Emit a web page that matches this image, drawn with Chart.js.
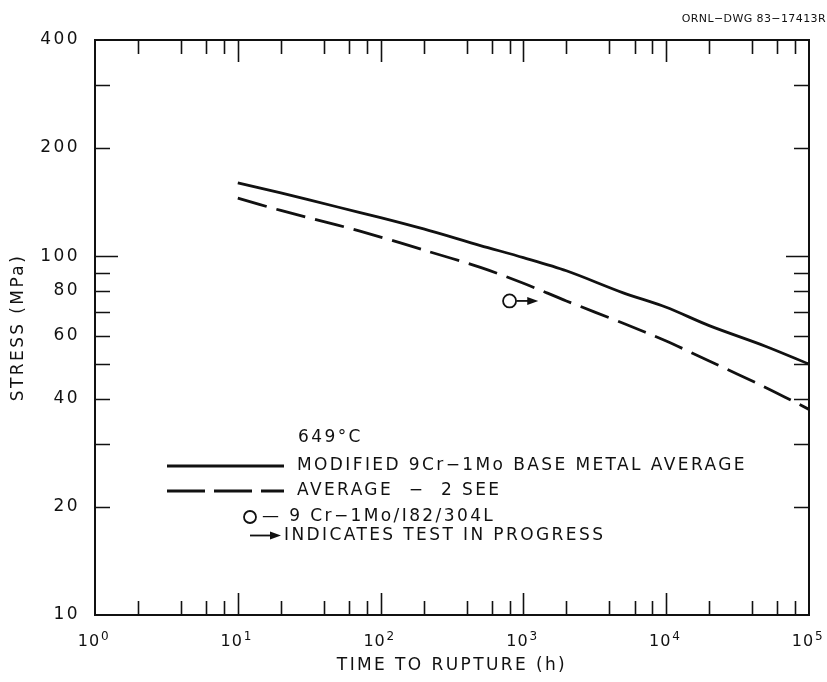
<!DOCTYPE html>
<html>
<head>
<meta charset="utf-8">
<script src="https://cdn.jsdelivr.net/npm/chart.js@4.4.1/dist/chart.umd.min.js"></script>
<style>
  html, body { margin: 0; padding: 0; background: #fff; }
  canvas { display: block; }
</style>
</head>
<body>
<canvas id="rupture" width="827" height="682"></canvas>
<script>
// ---- data ----
const hours = [10, 20, 50, 100, 200, 500, 1000, 2000, 5000, 10000, 20000, 50000, 100000];
const avgStress = [160, 150, 137, 128, 119, 107, 99, 91, 79, 72, 64, 56, 50];
const minStress = [145, 134, 122, 113, 104, 93, 84, 75, 65, 58, 51, 43, 37.4];

const testHours = [800];
const testStress = [75];
const testArrowTo = [1270];   // arrow head reaches this time (h)

const xTickValues = [1, 10, 100, 1000, 10000, 100000];
const xTickExponents = ['0', '1', '2', '3', '4', '5'];
const xMinorSteps = [2, 4, 6, 8];
const yTickValues = [10, 20, 40, 60, 80, 100, 200, 400];
const yMinorTicks = [20, 30, 40, 50, 60, 70, 80, 90, 200, 300];
const yMajorTicks = [100];

const FONT = 'DejaVu Sans';
const INK = '#111';
const SPACING = '2.4px';

// ---- tick marks, frame, legend, arrow ----
const paperPlugin = {
    id: 'paper',
    beforeDraw(chart) {
        chart.ctx.letterSpacing = SPACING;
    },
    afterDatasetsDraw(chart) {
        const ctx = chart.ctx;
        const a = chart.chartArea;
        const xs = chart.scales.x;
        const ys = chart.scales.y;
        ctx.save();
        ctx.strokeStyle = INK;
        ctx.fillStyle = INK;

        // frame
        ctx.lineWidth = 2;
        ctx.strokeRect(a.left, a.top, a.right - a.left, a.bottom - a.top);

        // x ticks (inward, top & bottom)
        ctx.lineWidth = 1.6;
        const xTick = (v, len) => {
            const px = Math.round(xs.getPixelForValue(v)) + 0.5;
            ctx.beginPath();
            ctx.moveTo(px, a.bottom); ctx.lineTo(px, a.bottom - len);
            ctx.moveTo(px, a.top); ctx.lineTo(px, a.top + len);
            ctx.stroke();
        };
        xTickValues.forEach((d, i) => {
            if (i > 0 && i < xTickValues.length - 1) xTick(d, 22);
            if (i < xTickValues.length - 1) xMinorSteps.forEach(m => xTick(d * m, 14));
        });

        // y ticks (inward, left & right)
        const yTick = (v, len) => {
            const py = Math.round(ys.getPixelForValue(v)) + 0.5;
            ctx.beginPath();
            ctx.moveTo(a.left, py); ctx.lineTo(a.left + len, py);
            ctx.moveTo(a.right, py); ctx.lineTo(a.right - len, py);
            ctx.stroke();
        };
        yMinorTicks.forEach(v => yTick(v, 15));
        yMajorTicks.forEach(v => yTick(v, 23));

        // x tick labels: 10 with raised exponent
        ctx.letterSpacing = '1px';
        ctx.textBaseline = 'alphabetic';
        xTickValues.forEach((v, i) => {
            const px = xs.getPixelForValue(v);
            ctx.font = '16px "' + FONT + '"';
            ctx.textAlign = 'center';
            ctx.fillText('10', px - 6, a.bottom + 31);
            ctx.font = '12px "' + FONT + '"';
            ctx.textAlign = 'left';
            ctx.fillText(xTickExponents[i], px + 6, a.bottom + 25);
        });

        // "test in progress" arrow on the data point
        ctx.lineWidth = 1.8;
        testHours.forEach((t, i) => {
            const x0 = xs.getPixelForValue(t) + 7;
            const x1 = xs.getPixelForValue(testArrowTo[i]);
            const y = ys.getPixelForValue(testStress[i]);
            drawArrow(ctx, x0, x1, y);
        });

        // legend block
        ctx.letterSpacing = SPACING;
        ctx.font = '17px "' + FONT + '"';
        ctx.textBaseline = 'middle';
        ctx.textAlign = 'left';
        ctx.fillText('649\u00B0C', 298, 438);

        ctx.lineWidth = 2.8;
        ctx.beginPath();
        ctx.moveTo(167, 466); ctx.lineTo(284, 466);
        ctx.stroke();
        ctx.fillText('MODIFIED 9Cr\u22121Mo BASE METAL AVERAGE', 297, 466);

        ctx.setLineDash([38, 9]);
        ctx.beginPath();
        ctx.moveTo(167, 491); ctx.lineTo(284, 491);
        ctx.stroke();
        ctx.setLineDash([]);
        ctx.fillText('AVERAGE  \u2212  2 SEE', 297, 491);

        ctx.lineWidth = 1.8;
        ctx.beginPath();
        ctx.arc(250, 517, 6, 0, Math.PI * 2);
        ctx.stroke();
        ctx.fillText('\u2014 9 Cr\u22121Mo/I82/304L', 262, 517);

        drawArrow(ctx, 250, 281, 535.5);
        ctx.fillText('INDICATES TEST IN PROGRESS', 284, 535.5);

        // drawing number
        ctx.letterSpacing = '0.4px';
        ctx.font = '11px "' + FONT + '"';
        ctx.textAlign = 'right';
        ctx.fillText('ORNL\u2212DWG 83\u221217413R', 826, 19);
        ctx.restore();
    }
};

function drawArrow(ctx, x0, x1, y) {
    ctx.beginPath();
    ctx.moveTo(x0, y); ctx.lineTo(x1 - 8, y);
    ctx.stroke();
    ctx.beginPath();
    ctx.moveTo(x1, y);
    ctx.lineTo(x1 - 11, y - 4);
    ctx.lineTo(x1 - 11, y + 4);
    ctx.closePath();
    ctx.fill();
}

const toPoints = (xsArr, ysArr) => xsArr.map((x, i) => ({ x: x, y: ysArr[i] }));

new Chart(document.getElementById('rupture'), {
    type: 'line',
    data: {
        datasets: [
            {
                label: 'MODIFIED 9Cr-1Mo BASE METAL AVERAGE',
                data: toPoints(hours, avgStress),
                borderColor: INK,
                borderWidth: 2.8,
                pointRadius: 0,
                tension: 0.3,
                fill: false
            },
            {
                label: 'AVERAGE - 2 SEE',
                data: toPoints(hours, minStress),
                borderColor: INK,
                borderWidth: 2.8,
                borderDash: [30, 10],
                pointRadius: 0,
                tension: 0.3,
                fill: false
            },
            {
                type: 'scatter',
                label: '9Cr-1Mo/I82/304L',
                data: toPoints(testHours, testStress),
                pointStyle: 'circle',
                pointRadius: 6.5,
                borderWidth: 1.8,
                borderColor: INK,
                backgroundColor: '#fff',
                showLine: false
            }
        ]
    },
    options: {
        responsive: false,
        animation: false,
        devicePixelRatio: 1,
        layout: { padding: { top: 40, right: 18, left: 0, bottom: 0 } },
        plugins: {
            legend: { display: false },
            tooltip: { enabled: false }
        },
        scales: {
            x: {
                type: 'logarithmic',
                min: 1,
                max: 100000,
                grid: { display: false, drawTicks: false },
                border: { display: false },
                afterBuildTicks: s => { s.ticks = xTickValues.map(v => ({ value: v })); },
                afterFit: s => { s.height = 67; s.paddingLeft = 0; s.paddingRight = 0; },
                ticks: { display: false },
                title: {
                    display: true,
                    text: 'TIME TO RUPTURE (h)',
                    color: INK,
                    font: { family: FONT, size: 17 },
                    padding: { top: 0, bottom: 6 }
                }
            },
            y: {
                type: 'logarithmic',
                min: 10,
                max: 400,
                grid: { display: false, drawTicks: false },
                border: { display: false },
                afterBuildTicks: s => { s.ticks = yTickValues.map(v => ({ value: v })); },
                afterFit: s => { s.width = 95; s.paddingTop = 0; s.paddingBottom = 0; },
                ticks: {
                    autoSkip: false,
                    padding: 15,
                    color: INK,
                    font: { family: FONT, size: 17 },
                    callback: v => String(v)
                },
                title: {
                    display: true,
                    text: 'STRESS (MPa)',
                    color: INK,
                    font: { family: FONT, size: 17 },
                    padding: { top: 8, bottom: 0 }
                }
            }
        }
    },
    plugins: [paperPlugin]
});
</script>
</body>
</html>
